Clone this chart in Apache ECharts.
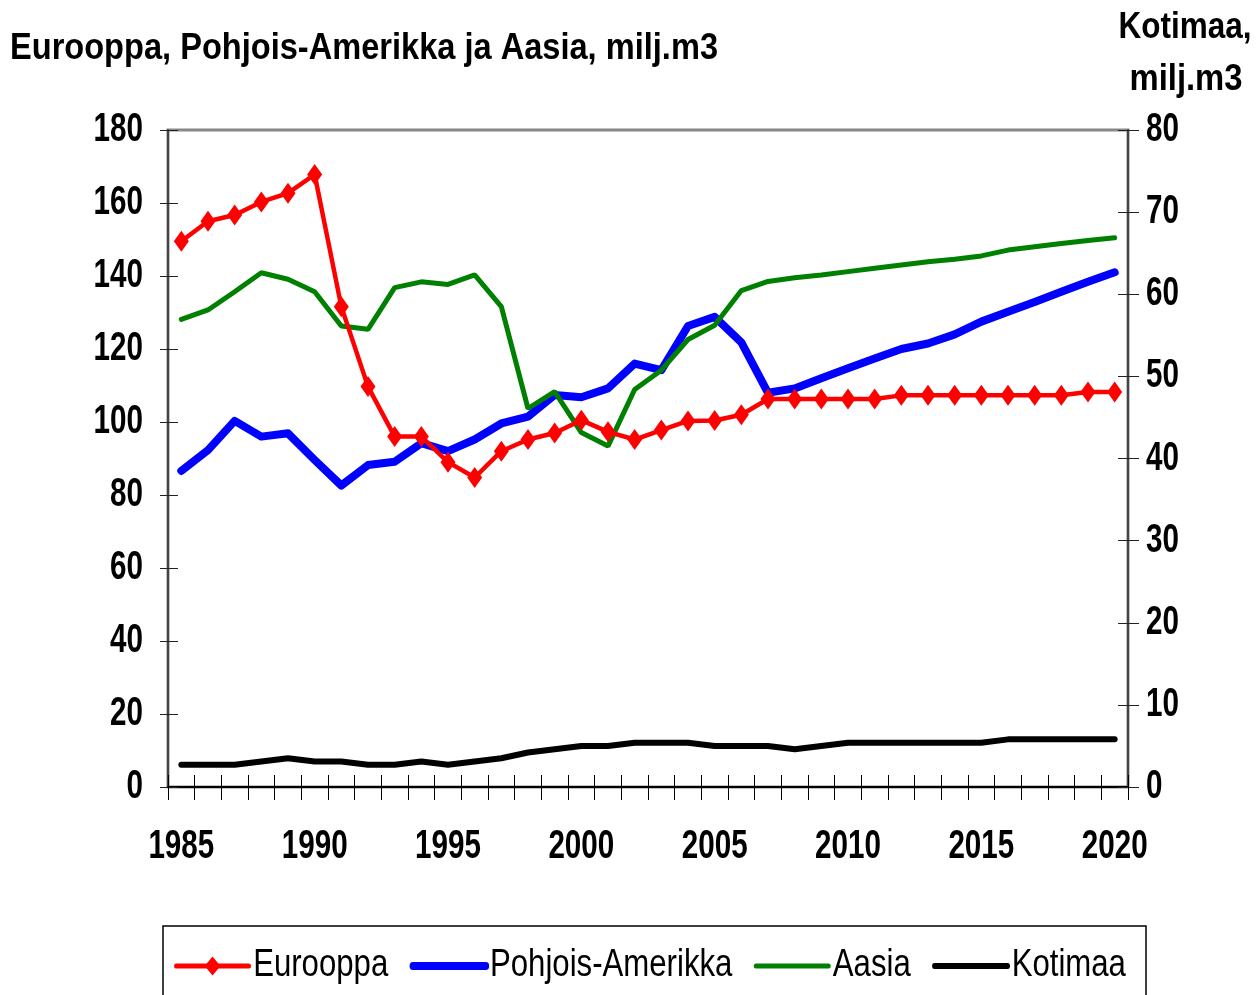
<!DOCTYPE html>
<html>
<head>
<meta charset="utf-8">
<script src="https://cdn.jsdelivr.net/npm/echarts@6/dist/echarts.min.js"></script>
<style>
html,body{margin:0;padding:0;background:#fff;}
#chart{width:1258px;height:995px;}
</style>
</head>
<body>
<div id="chart"></div>
<script>
const years = [1985,1986,1987,1988,1989,1990,1991,1992,1993,1994,1995,1996,1997,1998,1999,2000,2001,2002,2003,2004,2005,2006,2007,2008,2009,2010,2011,2012,2013,2014,2015,2016,2017,2018,2019,2020];
const eurooppa = [149.5,155,156.7,160.3,162.7,167.8,131.6,109.7,96,96,89,84.8,92,95.2,97,100.5,97.3,95.2,97.8,100.3,100.4,102,106.3,106.3,106.3,106.3,106.3,107.3,107.3,107.3,107.3,107.3,107.3,107.3,108.2,108.2];
const pohjoisAmerikka = [86.6,92.3,100.3,96,96.9,89.6,82.6,88.2,89.1,94.2,92,95.2,99.6,101.5,107.4,106.8,109.2,116,114.2,126.3,128.8,121.8,108,109.2,112,114.7,117.4,120,121.5,124,127.5,130.2,132.9,135.7,138.4,141];
const aasia = [128.1,130.7,135.7,140.9,139.1,135.7,126.3,125.4,136.8,138.4,137.7,140.3,131.6,103.7,108.3,97.1,93.4,108.9,114.2,122.6,126.5,136,138.5,139.5,140.3,141.2,142.1,143,143.9,144.6,145.5,147.1,148,148.9,149.7,150.5];
const kotimaa = [2.7,2.7,2.7,3.1,3.5,3.1,3.1,2.7,2.7,3.1,2.7,3.1,3.5,4.2,4.6,5.0,5.0,5.4,5.4,5.4,5.0,5.0,5.0,4.6,5.0,5.4,5.4,5.4,5.4,5.4,5.4,5.8,5.8,5.8,5.8,5.8];
const seriesNames = ['Eurooppa','Pohjois-Amerikka','Aasia','Kotimaa'];
const leftTitle = 'Eurooppa, Pohjois-Amerikka ja Aasia, milj.m3';
const rightTitleLines = ['Kotimaa,', 'milj.m3'];

const FONT = '"Liberation Sans", Arial, sans-serif';
const NARROW_AXIS = 0.74;   // emulates a condensed bold face
const NARROW_LEGEND = 0.82;

function fitScale(text, font, target){
  const c = document.createElement('canvas').getContext('2d');
  c.font = font;
  return target / c.measureText(text).width;
}
const titleFont = 'bold 37px "Liberation Sans", Arial, sans-serif';
const rtFont = 'bold 36px "Liberation Sans", Arial, sans-serif';

const chart = echarts.init(document.getElementById('chart'));
const hidden = {show:false};
chart.setOption({
  backgroundColor:'#fff',
  animation:false,
  legend:{
    left:169, top:942, width:1500, itemWidth:89, itemHeight:24, itemGap:26,
    textStyle:{fontFamily:FONT,fontSize:38,color:'#000'},
    data:[
      {name:seriesNames[0], lineStyle:{width:5,cap:'round'}},
      {name:seriesNames[1], lineStyle:{width:8,cap:'round'}, itemStyle:{opacity:0}},
      {name:seriesNames[2], lineStyle:{width:5,cap:'round'}, itemStyle:{opacity:0}},
      {name:seriesNames[3], lineStyle:{width:6,cap:'round'}, itemStyle:{opacity:0}}
    ]
  },
  graphic:[
    {type:'rect',shape:{x:163,y:926,width:983,height:120},style:{fill:null,stroke:'#000',lineWidth:1.5},silent:true},
    {type:'text',x:10,y:49,scaleX:fitScale(leftTitle,titleFont,708),
     style:{text:leftTitle,font:titleFont,fill:'#000',align:'left',verticalAlign:'middle'}},
    {type:'text',x:1185,y:28,scaleX:fitScale(rightTitleLines[0],rtFont,133),
     style:{text:rightTitleLines[0],font:rtFont,fill:'#000',align:'center',verticalAlign:'middle'}},
    {type:'text',x:1186,y:80,scaleX:fitScale(rightTitleLines[1],rtFont,113),
     style:{text:rightTitleLines[1],font:rtFont,fill:'#000',align:'center',verticalAlign:'middle'}}
  ],
  grid:{left:168,right:130,top:130,bottom:208,show:true,borderColor:'#888',borderWidth:3,backgroundColor:'transparent'},
  xAxis:[
    {type:'category',data:years,boundaryGap:true,position:'bottom',
     axisLine:{lineStyle:{color:'#000',width:2}},
     axisTick:{show:true,interval:0,length:13,lineStyle:{color:'#000',width:1}},
     axisLabel:{interval:function(i){return i%5===0;},margin:40,fontFamily:FONT,fontWeight:'bold',fontSize:40,color:'#000'},
     splitLine:hidden},
    {type:'category',data:years,boundaryGap:true,position:'bottom',
     axisLine:hidden,
     axisTick:{show:true,inside:true,interval:0,length:12,lineStyle:{color:'#000',width:1}},
     axisLabel:hidden,splitLine:hidden}
  ],
  yAxis:[
    {type:'value',min:0,max:180,interval:20,position:'left',
     axisLine:{show:true,lineStyle:{color:'#444',width:2}},
     axisTick:{show:true,length:8,lineStyle:{color:'#222',width:1}},
     axisLabel:{margin:25,fontFamily:FONT,fontWeight:'bold',fontSize:40,color:'#000'},
     splitLine:hidden},
    {type:'value',min:0,max:80,interval:10,position:'right',
     axisLine:{show:true,lineStyle:{color:'#444',width:2}},
     axisTick:{show:true,length:11,lineStyle:{color:'#222',width:1}},
     axisLabel:{margin:18,fontFamily:FONT,fontWeight:'bold',fontSize:40,color:'#000'},
     splitLine:hidden},
    {type:'value',min:0,max:180,interval:20,position:'left',
     axisLine:hidden,axisTick:{show:true,inside:true,length:10,lineStyle:{color:'#222',width:1}},
     axisLabel:hidden,splitLine:hidden},
    {type:'value',min:0,max:80,interval:10,position:'right',
     axisLine:hidden,axisTick:{show:true,inside:true,length:10,lineStyle:{color:'#222',width:1}},
     axisLabel:hidden,splitLine:hidden}
  ],
  series:[
    {name:seriesNames[0],type:'line',data:eurooppa,xAxisIndex:0,yAxisIndex:0,z:4,
     color:'#ff0000',lineStyle:{color:'#ff0000',width:4.5,join:'round'},
     symbol:'diamond',symbolSize:[15,21],showSymbol:true,showAllSymbol:true,itemStyle:{color:'#ff0000'}},
    {name:seriesNames[1],type:'line',data:pohjoisAmerikka,xAxisIndex:0,yAxisIndex:0,z:2,
     color:'#0000ff',lineStyle:{color:'#0000ff',width:8,cap:'round',join:'round'},symbol:'none'},
    {name:seriesNames[2],type:'line',data:aasia,xAxisIndex:0,yAxisIndex:0,z:3,
     color:'#008000',lineStyle:{color:'#008000',width:5,cap:'round'},symbol:'none'},
    {name:seriesNames[3],type:'line',data:kotimaa,xAxisIndex:0,yAxisIndex:1,z:3,
     color:'#000000',lineStyle:{color:'#000',width:6,cap:'round',join:'round'},symbol:'none'}
  ]
});

// Condense text horizontally (no narrow font is installed)
(function condense(){
  const views = chart._componentsViews || [];
  views.forEach(function(v){
    if (!v || !v.group) return;
    const t = String(v.type || '');
    if (/legend/i.test(t)) {
      v.group.scaleX = NARROW_LEGEND;
      v.group.originX = 0;
      v.group.traverse(function(el){ el.markRedraw && el.markRedraw(); });
      v.group.markRedraw && v.group.markRedraw();
    } else if (/axis/i.test(t)) {
      v.group.traverse(function(el){
        if (el.type === 'text') { el.scaleX = NARROW_AXIS; el.markRedraw(); }
      });
    }
  });
  chart.getZr().refresh();
})();
</script>
</body>
</html>
